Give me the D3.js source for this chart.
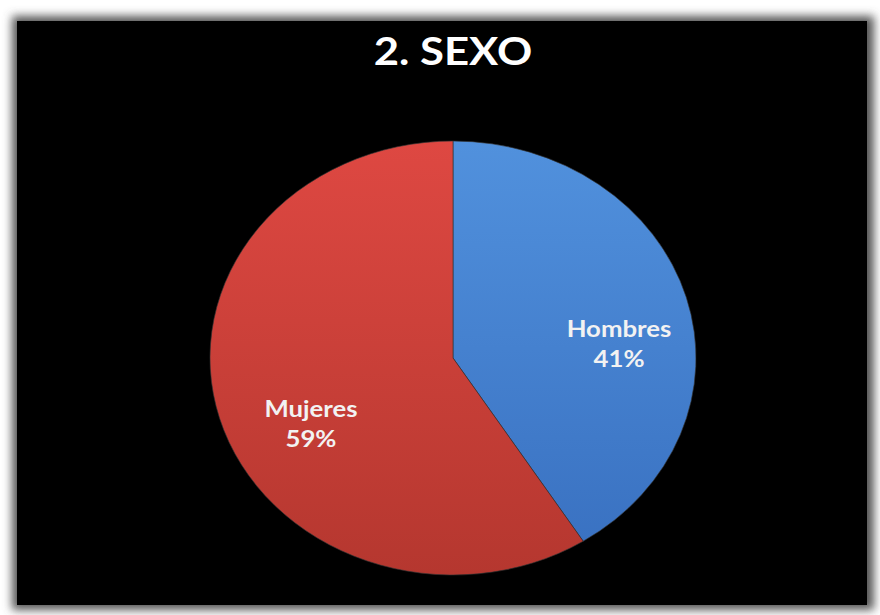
<!DOCTYPE html>
<html>
<head>
<meta charset="utf-8">
<script src="https://cdn.jsdelivr.net/npm/d3@7"></script>
<style>
  body { margin: 0; background: #fff; }
  text { font-family: Lato, "Open Sans", sans-serif; font-weight: bold; }
</style>
</head>
<body>
<div id="chart"></div>
<script>
// chart data
var categories = ['Hombres', 'Mujeres'];
var values     = [41, 59];
var title      = '2. SEXO';

var width  = 880;
var height = 615;

// pie is drawn as an ellipse (the picture is stretched horizontally)
var cx = 453, cy = 358;
var rx = 243, ry = 217;
var stretch = rx / ry;

var colors = {
	Hombres: ['#5191dd', '#3a72c2'],
	Mujeres: ['#de4842', '#b5372f']
};

var svg = d3.select('#chart')
	.append('svg')
	.attr('width', width)
	.attr('height', height);

var defs = svg.append('defs');

var blur = defs.append('filter')
	.attr('id', 'shadow')
	.attr('x', '-10%').attr('y', '-10%')
	.attr('width', '120%').attr('height', '120%');
blur.append('feGaussianBlur').attr('stdDeviation', 5);

categories.forEach(function(c) {
	var g = defs.append('linearGradient')
		.attr('id', 'grad-' + c)
		.attr('x1', 0).attr('y1', 0)
		.attr('x2', 0).attr('y2', 1);
	g.append('stop').attr('offset', '0%').attr('stop-color', colors[c][0]);
	g.append('stop').attr('offset', '100%').attr('stop-color', colors[c][1]);
});

// shadow + black panel
svg.append('rect')
	.attr('x', 12).attr('y', 16)
	.attr('width', 862).attr('height', 594)
	.attr('fill', '#555')
	.attr('filter', 'url(#shadow)');
svg.append('rect')
	.attr('x', 17).attr('y', 21)
	.attr('width', 850).attr('height', 584)
	.attr('fill', '#000');

// title
svg.append('text')
	.attr('transform', 'translate(' + cx + ',65) scale(' + stretch + ',1)')
	.attr('text-anchor', 'middle')
	.attr('font-size', 39)
	.attr('fill', '#fff')
	.text(title);

var data = categories.map(function(c, i) {
	return { name: c, value: values[i] };
});

var pie = d3.pie()
	.sort(null)
	.value(function(d) { return d.value; });

var arcs = pie(data);

var arc = d3.arc()
	.innerRadius(0)
	.outerRadius(ry);

var labelArc = d3.arc()
	.innerRadius(ry * 0.66)
	.outerRadius(ry * 0.66);

var pieG = svg.append('g')
	.attr('transform', 'translate(' + cx + ',' + cy + ') scale(' + stretch + ',1)');

pieG.selectAll('path')
	.data(arcs)
	.enter()
	.append('path')
	.attr('d', arc)
	.attr('fill', function(d) { return 'url(#grad-' + d.data.name + ')'; })
	.attr('stroke', '#333')
	.attr('stroke-width', 0.6);

// labels (not stretched with the pie group)
var labels = svg.append('g')
	.attr('transform', 'translate(' + cx + ',' + cy + ')');

arcs.forEach(function(d) {
	var p = labelArc.centroid(d);
	var x = p[0] * stretch + 12;
	var y = p[1] + 22;
	var t = labels.append('text')
		.attr('transform', 'translate(' + x + ',' + y + ') scale(' + stretch + ',1)')
		.attr('text-anchor', 'middle')
		.attr('font-size', 23)
		.attr('fill', '#f2f2f2');
	t.append('tspan')
		.attr('x', 0).attr('dy', -3)
		.text(d.data.name);
	t.append('tspan')
		.attr('x', 0).attr('dy', 30)
		.text(d.data.value + '%');
});
</script>
</body>
</html>
